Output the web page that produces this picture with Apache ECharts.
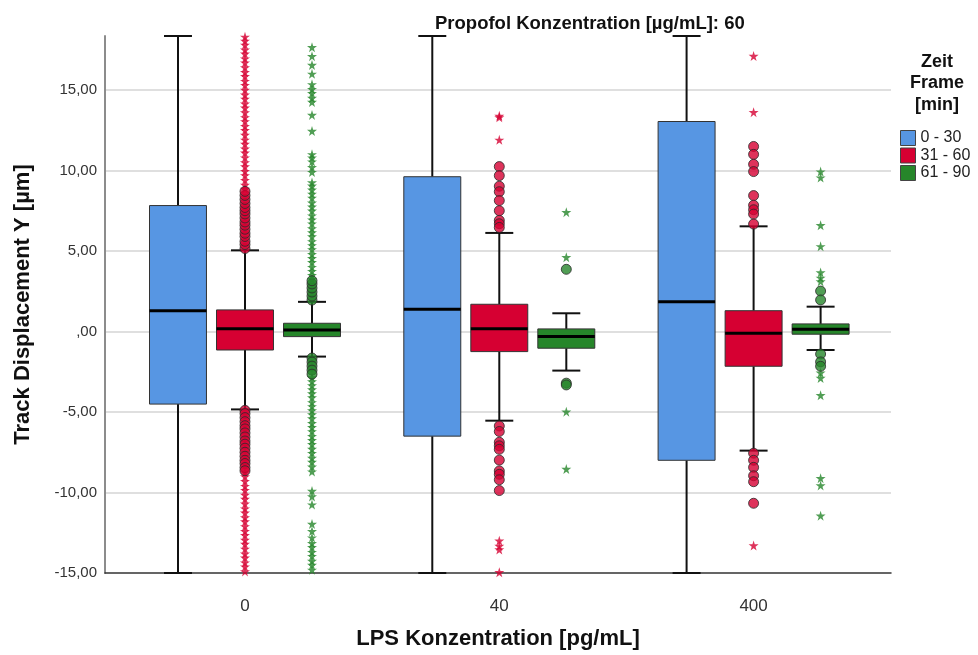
<!DOCTYPE html>
<html>
<head>
<meta charset="utf-8">
<script src="https://cdn.jsdelivr.net/npm/echarts@6.0.0/dist/echarts.min.js"></script>
<style>
  html, body { margin: 0; padding: 0; background: #fff; }
  #main { width: 978px; height: 655px; }
</style>
</head>
<body>
<div id="main"></div>
<script>
// LPS-Gruppen (x-Achse) und Zeitfenster (Legende)
var lpsGroups = ['0', '40', '400'];
var frameNames = ['0 - 30', '31 - 60', '61 - 90'];

// [unterer Whisker, Q1, Median, Q3, oberer Whisker] je LPS-Gruppe
var box0_30 = [[-15, -4.51, 1.29, 7.82, 18.35], [-15, -6.5, 1.38, 9.61, 18.35], [-15, -8.0, 1.85, 13.04, 18.35]];
var box31_60 = [[-4.84, -1.15, 0.17, 1.34, 5.04], [-5.54, -1.25, 0.17, 1.69, 6.12], [-7.4, -2.16, -0.11, 1.29, 6.53]];
var box61_90 = [[-1.56, -0.32, 0.09, 0.51, 1.84], [-2.43, -1.04, -0.32, 0.16, 1.13], [-1.15, -0.17, 0.14, 0.47, 1.54]];

// Ausreisser (Kreise) je LPS-Gruppe
var circles31_60 = [
  [5.15, 5.4, 5.6, 5.9, 6.1, 6.35, 6.6, 6.8, 7.05, 7.3, 7.5, 7.7, 7.95, 8.2, 8.45, 8.7,
   -4.9, -5.1, -5.35, -5.6, -5.85, -6.05, -6.3, -6.55, -6.8, -7.0, -7.25, -7.5, -7.75, -8.0, -8.2, -8.45, -8.65],
  [10.24, 9.68, 9.02, 8.68, 8.13, 7.5, 6.9, 6.69, 6.46,
   -5.87, -6.21, -6.88, -7.1, -7.32, -7.99, -8.66, -8.87, -9.21, -9.88],
  [11.49, 11.0, 10.38, 9.93, 8.44, 7.84, 7.56, 7.29, 6.67,
   -7.56, -8.0, -8.44, -8.96, -9.33, -10.67]
];
var circles61_90 = [
  [1.95, 2.2, 2.45, 2.7, 2.95, 3.15, -1.65, -1.9, -2.15, -2.4, -2.65],
  [3.86, -3.21, -3.32],
  [2.51, 1.96, -1.4, -1.89, -2.16]
];

// Extremwerte (Sterne) je LPS-Gruppe
var stars31_60 = [
  [8.85, 9.1, 9.4, 9.7, 9.95, 10.25, 10.5, 10.8, 11.1, 11.35, 11.65, 11.9, 12.2, 12.5, 12.75,
   13.05, 13.3, 13.6, 13.9, 14.15, 14.45, 14.7, 15.0, 15.3, 15.55, 15.85, 16.1, 16.4, 16.7,
   16.95, 17.25, 17.5, 17.8, 18.05, 18.3,
   -8.75, -9.0, -9.3, -9.6, -9.85, -10.15, -10.4, -10.7, -11.0, -11.25, -11.55, -11.8, -12.1,
   -12.4, -12.65, -12.95, -13.2, -13.5, -13.8, -14.05, -14.35, -14.6, -14.9],
  [13.39, 13.3, 11.9, -12.99, -13.32, -13.54, -14.95],
  [17.11, 13.62, -13.29]
];
var stars61_90 = [
  [3.25, 3.5, 3.75, 4.0, 4.3, 4.55, 4.8, 5.1, 5.35, 5.6, 5.9, 6.15, 6.4, 6.7, 6.95, 7.2, 7.5,
   7.75, 8.0, 8.3, 8.55, 8.8, 9.05, 9.25, 9.9, 10.2, 10.55, 10.8, 11.0, 12.45, 13.45, 14.25,
   14.5, 14.8, 15.05, 15.35, 16.0, 16.55, 17.1, 17.65,
   -2.85, -3.1, -3.35, -3.6, -3.85, -4.1, -4.4, -4.65, -4.9, -5.15, -5.4, -5.7, -5.95, -6.2,
   -6.5, -6.75, -7.0, -7.3, -7.55, -7.85, -8.1, -8.4, -8.7, -9.9, -10.25, -10.75, -11.95,
   -12.4, -12.8, -13.15, -13.4, -13.7, -13.95, -14.25, -14.5, -14.8],
  [7.41, 4.61, -4.98, -8.54],
  [9.93, 9.56, 6.6, 5.29, 3.67, 3.33, 3.11, -2.56, -2.89, -3.96, -9.11, -9.56, -11.44]
];

var colors = ['#5796e3', '#d60032', '#26862a'];
var offsets = [-0.2635, 0, 0.2635];   // Lage der Boxen innerhalb einer Gruppe
var BOX_W = 0.224;
var CAP_W = 0.11;
var FONT = 'Liberation Sans, Arial, sans-serif';
var STAR = 'path://M50,0 L61,35 L98,35 L68,57 L79,91 L50,70 L21,91 L32,57 L2,35 L39,35 Z';

var chart = echarts.init(document.getElementById('main'));

function renderBox(params, api) {
  var x = api.value(0);
  var half = api.size([BOX_W, 0])[0] / 2;
  var capHalf = api.size([CAP_W, 0])[0] / 2;
  var lo = api.coord([x, api.value(1)]);
  var q1 = api.coord([x, api.value(2)]);
  var md = api.coord([x, api.value(3)]);
  var q3 = api.coord([x, api.value(4)]);
  var hi = api.coord([x, api.value(5)]);
  var cx = lo[0];
  var whisker = { stroke: '#111', lineWidth: 2 };
  return {
    type: 'group',
    children: [
      { type: 'line', shape: { x1: cx, y1: hi[1], x2: cx, y2: q3[1] }, style: whisker },
      { type: 'line', shape: { x1: cx, y1: q1[1], x2: cx, y2: lo[1] }, style: whisker },
      { type: 'line', shape: { x1: cx - capHalf, y1: hi[1], x2: cx + capHalf, y2: hi[1] }, style: whisker },
      { type: 'line', shape: { x1: cx - capHalf, y1: lo[1], x2: cx + capHalf, y2: lo[1] }, style: whisker },
      { type: 'rect', shape: { x: cx - half, y: q3[1], width: half * 2, height: q1[1] - q3[1] },
        style: { fill: api.visual('color'), stroke: '#333', lineWidth: 1 } },
      { type: 'line', shape: { x1: cx - half, y1: md[1], x2: cx + half, y2: md[1] },
        style: { stroke: '#000', lineWidth: 3 } }
    ]
  };
}

function pointData(lists, si) {
  var d = [];
  lists.forEach(function (vals, gi) {
    vals.forEach(function (v) { d.push([gi + offsets[si], v]); });
  });
  return d;
}

var series = [];
[box0_30, box31_60, box61_90].forEach(function (boxes, si) {
  series.push({
    name: frameNames[si],
    type: 'custom',
    renderItem: renderBox,
    itemStyle: { color: colors[si] },
    encode: { x: 0, y: [1, 2, 3, 4, 5] },
    data: boxes.map(function (b, gi) { return [gi + offsets[si]].concat(b); }),
    z: 2
  });
});
[[circles31_60, stars31_60, 1], [circles61_90, stars61_90, 2]].forEach(function (item) {
  var si = item[2];
  series.push({
    name: 'stars ' + frameNames[si],
    type: 'scatter',
    symbol: STAR,
    symbolSize: 10,
    itemStyle: { color: colors[si] },
    data: pointData(item[1], si),
    z: 3
  });
  series.push({
    name: 'circles ' + frameNames[si],
    type: 'scatter',
    symbol: 'circle',
    symbolSize: 10,
    itemStyle: { color: colors[si], borderColor: '#2a2a2a', borderWidth: 1 },
    data: pointData(item[0], si),
    z: 4
  });
});

chart.setOption({
  animation: false,
  textStyle: { fontFamily: FONT },
  title: [{
    text: 'Propofol Konzentration [µg/mL]: 60',
    left: 430,
    top: 9,
    textStyle: { fontSize: 18.5, fontWeight: 'bold', color: '#111', fontFamily: FONT }
  }, {
    text: 'Zeit\nFrame\n[min]',
    left: 932,
    top: 46,
    textAlign: 'center',
    textStyle: { fontSize: 18, fontWeight: 'bold', color: '#111', lineHeight: 21.5, fontFamily: FONT }
  }],
  legend: {
    data: frameNames.map(function (n, i) {
      return { name: n, itemStyle: { color: colors[i], borderColor: '#444', borderWidth: 1 } };
    }),
    orient: 'vertical',
    left: 895,
    top: 125,
    icon: 'rect',
    itemWidth: 15,
    itemHeight: 15,
    itemGap: 1.5,
    textStyle: { fontSize: 16, color: '#222', fontFamily: FONT }
  },
  grid: { left: 105, top: 36, width: 786, height: 537, outerBoundsMode: 'none' },
  xAxis: {
    type: 'value',
    min: -0.5505,
    max: 2.5403,
    name: 'LPS Konzentration [pg/mL]',
    nameLocation: 'middle',
    nameGap: 55,
    nameTextStyle: { fontSize: 22, fontWeight: 'bold', color: '#111', fontFamily: FONT },
    axisLine: { onZero: false, lineStyle: { color: '#333', width: 1.5 } },
    axisTick: { show: false },
    splitLine: { show: false },
    axisLabel: {
      customValues: [0, 1, 2],
      formatter: function (v) { return lpsGroups[Math.round(v)]; },
      fontSize: 17, color: '#333', margin: 25
    }
  },
  yAxis: {
    type: 'value',
    min: -15,
    max: 18.35,
    interval: 5,
    name: 'Track Displacement Y [µm]',
    nameLocation: 'middle',
    nameGap: 71,
    nameTextStyle: { fontSize: 22, fontWeight: 'bold', color: '#111', fontFamily: FONT },
    axisLine: { show: true, onZero: false, lineStyle: { color: '#8c8c8c', width: 2 } },
    axisTick: { show: false },
    axisLabel: {
      showMaxLabel: false,
      fontSize: 15, color: '#333', margin: 8,
      formatter: function (v) { return v === 0 ? ',00' : v.toFixed(2).replace('.', ','); }
    },
    splitLine: { showMaxLine: false, showMinLine: false, lineStyle: { color: '#d4d4d4', width: 1.5 } }
  },
  series: series
});
</script>
</body>
</html>
